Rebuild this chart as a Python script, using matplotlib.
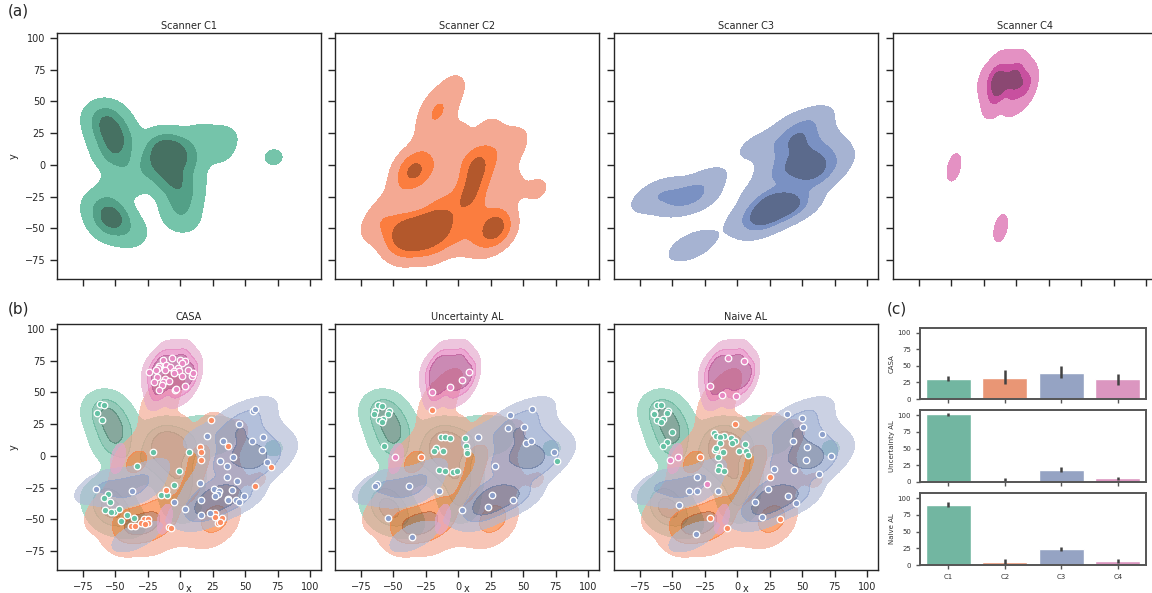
import numpy as np
import pandas as pd
import matplotlib
matplotlib.use("Agg")
import matplotlib.pyplot as plt
import seaborn as sns

sns.set_style("ticks")
plt.rcParams["font.family"] = ["DejaVu Sans"]
plt.rcParams.update({
    "axes.edgecolor": "#262626",
    "axes.linewidth": 1.0,
    "xtick.major.size": 5,
    "ytick.major.size": 5,
    "xtick.major.width": 1.0,
    "ytick.major.width": 1.0,
    "xtick.labelsize": 7,
    "ytick.labelsize": 7,
    "axes.titlesize": 7,
    "axes.labelsize": 7,
})

SCANNERS = ["C1", "C2", "C3", "C4"]
METHODS = ["CASA", "Uncertainty AL", "Naive AL"]
PALETTE = sns.color_palette("Set2", 4)

# 2-D embedding of every sample, per scanner
C1_EMBED = [
    (-62, 40), (-59, 40), (-63, 35), (-53, 35), (-54, 33), (-56, 29), (-59, 28), (-57, 27),
    (-48, 19), (-52, 11), (-55, 8), (-50, 22), (-46, 26), (-53, 18), (-45, 14), (-48, 6),
    (-56, 38), (-43, 20), (-50, 30), (-47, 3), (-51, 14), (-58, 20),
    (-40, 0), (-33, -8), (-22, 3), (-45, -12), (-38, -15), (-52, -18),
    (-18, 18), (-16, 15), (-10, 15), (-13, 15), (-5, 14), (-2, 12), (-4, 10), (-13, 10),
    (-17, 5), (-16, 6), (-11, 3), (1, 4), (6, 9), (7, 4), (8, 1), (-15, -1), (-14, -8),
    (-15, -11), (-10, -12), (-4, -13), (-1, -12), (-8, 5), (-5, 0), (2, -5),
    (-20, 10), (-8, 18), (3, 15), (-22, -3), (-6, -8),
    (-5, -23), (0, -28), (3, -35), (-2, -40), (5, -25), (-3, -17), (8, -15), (2, -20),
    (-2, -32), (4, -44),
    (-56, -30), (-59, -33), (-54, -36), (-58, -43), (-51, -44), (-47, -42), (-53, -44),
    (-46, -51), (-41, -52), (-36, -55), (-62, -38), (-55, -50), (-65, -30),
    (-52, -41), (-50, -43), (-54, -40),
    (15, 24), (25, 18), (35, 22), (30, 10), (72, 6),
]
C2_EMBED = [
    (-28, -50), (-25, -50), (-25, -53), (-30, -53), (-27, -54), (-38, -55), (-35, -55),
    (-42, -58), (-45, -55), (-20, -55), (-15, -50), (-33, -48), (-40, -50), (-22, -60),
    (-30, -60), (-48, -52), (-12, -47), (-18, -46), (-35, -60), (-44, -48),
    (15, 7), (16, 3), (16, -3), (12, -10), (10, -18), (8, -25), (14, -15), (18, 0),
    (6, -30), (11, -28), (13, -5), (7, -20), (10, 3),
    (27, -45), (27, -48), (32, -49), (29, -53), (31, -52), (26, -51), (30, -46),
    (-29, -1), (-35, -4), (-33, -3), (-38, 0), (-33, -8), (-40, -8), (-28, -10),
    (-11, -27), (-5, -35), (0, -40), (-15, -35), (5, -45), (-20, -40), (20, -35),
    (-17, 42), (-16, 41),
    (-3, 62), (-12, 50), (-22, 30), (0, 25), (-25, 15), (-12, 8), (-10, -2),
    (24, 28), (37, 8), (45, 20), (40, -20), (35, -10), (30, 15),
    (-8, -56), (-7, -57), (-60, -45), (-55, -35), (-65, -50), (-45, -20), (5, -60),
    (15, -55), (20, -62), (-20, -68), (-40, -68), (-50, -62), (61, -19),
]
C3_EMBED = [
    (-37, -28), (-32, -22), (-44, -30), (-40, -22), (-50, -27), (-28, -28),
    (-63, -22), (-67, -28), (-56, -20), (-22, -10),
    (-36, -25), (-46, -24), (-58, -25), (-26, -16),
    (-35, -64), (-30, -61), (-38, -66),
    (56, 35), (58, 37), (45, 25), (41, 32), (38, 22), (51, 23), (64, 15), (55, 12),
    (43, 12), (63, 5), (54, 7), (41, -1), (31, -4), (36, -8), (53, -3), (67, -5),
    (44, -11), (28, -10), (62, -14), (72, 0), (74, 3), (50, 0), (60, -5), (15, 15), (21, 16),
    (48, 18), (60, 20), (35, 15), (58, 28), (47, 5), (57, -8), (40, 5), (65, 8), (52, 15),
    (45, -5), (33, 2), (60, 0), (50, -10), (48, 28), (70, 10), (66, -10),
    (55, -15), (42, 18), (30, 8),
    (15, -21), (26, -26), (30, -28), (29, -30), (27, -32), (40, -27),
    (37, -34), (43, -35), (45, -36), (49, -32), (16, -35), (24, -26), (22, -40), (19, -48),
    (23, -45), (16, -47), (14, -36), (6, -42),
    (20, -30), (32, -25), (35, -38), (25, -38), (28, -42), (41, -30), (33, -33), (18, -42),
    (47, -28), (12, -44),
]
C4_EMBED = [
    (-6, 77), (-13, 76), (-16, 71), (-17, 69), (-11, 72), (0, 76), (4, 75), (1, 73),
    (-8, 70), (-2, 69), (6, 68), (-24, 66), (-19, 68), (-12, 68), (-5, 67), (-1, 67),
    (-18, 62), (-12, 61), (-5, 65), (1, 63), (9, 63), (10, 65), (-20, 58), (-13, 58),
    (-9, 59), (-14, 56), (4, 55), (-16, 52), (-4, 52), (-3, 53),
    (8, 66), (3, 60), (-20, 50), (-48, -2), (-12, -50),
]
EMBEDS = [C1_EMBED, C2_EMBED, C3_EMBED, C4_EMBED]

# samples picked by each strategy, per scanner
CASA_C1 = [(-62, 41), (-59, 40), (-64, 34), (-60, 28), (-21, 3), (7, 3), (-33, -8), (-1, -12),
           (-5, -23), (-15, -31), (-10, -31), (-56, -30), (-59, -33), (-54, -36), (-58, -43),
           (-51, -44), (-47, -42), (-53, -44), (-46, -51), (-41, -47), (-36, -49)]
CASA_C2 = [(24, 28), (37, 8), (15, 7), (16, 3), (16, -3), (70, -9), (-11, -27), (58, -24),
           (27, -45), (27, -48), (32, -49), (29, -53), (31, -52), (-28, -50), (-25, -50),
           (-25, -53), (-30, -53), (-27, -54), (-38, -55), (-35, -55), (-9, -56), (-7, -57)]
CASA_C3 = [(56, 35), (58, 37), (45, 25), (21, 16), (33, 12), (64, 15), (55, 12), (63, 5),
           (41, -1), (31, -4), (36, -8), (67, -5), (15, -21), (36, -17), (44, -20), (26, -26),
           (30, -28), (29, -30), (27, -32), (40, -27), (37, -34), (37, -35), (43, -35),
           (45, -36), (49, -32), (16, -35), (-5, -36), (4, -42), (16, -47), (23, -45),
           (-37, -28), (-65, -26)]
CASA_C4 = [(-6, 77), (-13, 76), (-16, 71), (-17, 69), (-11, 72), (0, 76), (4, 75), (1, 73),
           (-8, 70), (-2, 69), (6, 68), (-24, 66), (-19, 68), (-12, 68), (-5, 67), (-1, 67),
           (-18, 62), (-12, 61), (-5, 65), (1, 63), (9, 63), (10, 65), (-20, 58), (-13, 58),
           (-9, 59), (-14, 56), (4, 55), (-16, 52), (-4, 52), (-3, 53)]

UNC_C1 = [(-62, 40), (-59, 39), (-64, 35), (-65, 33), (-53, 35), (-54, 33), (-58, 29),
          (-61, 28), (-59, 27), (-57, 8), (-13, 15), (-10, 15), (-6, 14), (5, 14), (6, 8),
          (7, 4), (7, 2), (-17, 6), (-19, 4), (-12, 4), (-15, -11), (-10, -12), (-4, -13),
          (-1, -12), (76, -4)]
UNC_C2 = [(-20, 36), (-29, -1)]
UNC_C3 = [(57, 37), (40, 32), (38, 22), (51, 23), (15, 15), (52, 10), (56, 12), (74, 3),
          (28, -8), (-63, -22), (-64, -24), (-38, -24), (-15, -28), (26, -31), (42, -35),
          (23, -40), (3, -43), (-54, -49), (-36, -64)]
UNC_C4 = [(8, 66), (3, 60), (-6, 54), (-20, 50), (-49, -1)]

NAIVE_C1 = [(-62, 40), (-59, 40), (-64, 34), (-64, 33), (-53, 35), (-54, 34), (-57, 29),
            (-62, 28), (-59, 27), (-50, 19), (-54, 11), (-57, 8), (-18, 18), (-16, 16),
            (-10, 16), (-13, 15), (-5, 14), (-2, 12), (-4, 10), (-13, 10), (-17, 5), (-16, 6),
            (-11, 3), (1, 4), (6, 9), (7, 4), (8, 1), (-15, -1), (-14, -8), (-15, -11),
            (-10, -12)]
NAIVE_C2 = [(-2, 25), (-29, -1), (25, -17), (-21, -49), (-8, -57), (33, -50)]
NAIVE_C3 = [(38, 33), (50, 30), (51, 23), (65, 17), (43, 12), (54, 7), (72, 0), (53, -3),
            (28, -10), (44, -11), (63, -14), (-31, -17), (-37, -28), (-31, -28), (-15, -28),
            (24, -26), (39, -32), (45, -37), (14, -36), (-45, -39), (19, -48), (-32, -62)]
NAIVE_C4 = [(-7, 77), (5, 75), (-21, 55), (-12, 48), (-1, 47), (-46, -1), (-52, -3),
            (-23, -22)]

PICKS = [
    [CASA_C1, CASA_C2, CASA_C3, CASA_C4],
    [UNC_C1, UNC_C2, UNC_C3, UNC_C4],
    [NAIVE_C1, NAIVE_C2, NAIVE_C3, NAIVE_C4],
]

# share of each scanner among the selected samples (mean and interval)
CASA_MEAN = [30.7, 32.2, 39.7, 30.7]
CASA_LO = [27.6, 22.0, 32.0, 21.0]
CASA_HI = [34.7, 44.0, 50.0, 38.0]
UNC_MEAN = [101.0, 3.0, 18.0, 6.0]
UNC_LO = [98.0, 0.0, 14.6, 3.5]
UNC_HI = [103.0, 5.5, 22.0, 8.0]
NAIVE_MEAN = [89.5, 5.0, 24.6, 6.5]
NAIVE_LO = [86.0, 1.5, 21.6, 3.5]
NAIVE_HI = [94.0, 9.0, 27.6, 9.0]
BAR_MEANS = [CASA_MEAN, UNC_MEAN, NAIVE_MEAN]
BAR_LOS = [CASA_LO, UNC_LO, NAIVE_LO]
BAR_HIS = [CASA_HI, UNC_HI, NAIVE_HI]

XLIM = (-95, 108.5)
YLIM = (-90, 104)
BW_ADJUST = 0.62

embed_df = pd.DataFrame(
    [(x, y, s) for s, pts in zip(SCANNERS, EMBEDS) for x, y in pts],
    columns=["x", "y", "scanner"],
)

W, H = 1152, 593
fig = plt.figure(figsize=(W / 100, H / 100), dpi=100)


def px_axes(x0, y0, x1, y1):
    return fig.add_axes([x0 / W, 1 - y1 / H, (x1 - x0) / W, (y1 - y0) / H])


col_x = [(57, 321), (335, 599), (614, 878), (893, 1157)]
TICKS = [-75, -50, -25, 0, 25, 50, 75, 100]

# (a) one density per scanner
for i, name in enumerate(SCANNERS):
    ax = px_axes(col_x[i][0], 33, col_x[i][1], 279)
    sub = embed_df[embed_df["scanner"] == name]
    sns.kdeplot(data=sub, x="x", y="y", fill=True, levels=4, thresh=0.05,
                color=PALETTE[i], bw_adjust=BW_ADJUST, ax=ax)
    ax.set_xlim(*XLIM)
    ax.set_ylim(*YLIM)
    ax.set_xticks(TICKS)
    ax.set_yticks(TICKS)
    ax.set_xticklabels([])
    ax.set_xlabel("")
    if i == 0:
        ax.set_ylabel("y")
    else:
        ax.set_yticklabels([])
        ax.set_ylabel("")
    ax.set_title(f"Scanner {name}", pad=3)

# (b) all scanners overlaid with the selected samples
for m, method in enumerate(METHODS):
    ax = px_axes(col_x[m][0], 324, col_x[m][1], 570)
    sns.kdeplot(data=embed_df, x="x", y="y", hue="scanner", hue_order=SCANNERS,
                palette=PALETTE, fill=True, levels=4, thresh=0.05, alpha=0.65,
                bw_adjust=BW_ADJUST, legend=False, ax=ax)
    for i in range(4):
        pts = PICKS[m][i]
        ax.scatter([p[0] for p in pts], [p[1] for p in pts], s=22, color=PALETTE[i],
                   edgecolor="white", linewidth=0.9, zorder=5)
    ax.set_xlim(*XLIM)
    ax.set_ylim(*YLIM)
    ax.set_xticks(TICKS)
    ax.set_yticks(TICKS)
    ax.set_xlabel("x")
    ax.xaxis.set_label_coords(0.5, -0.057)
    if m == 0:
        ax.set_ylabel("y")
    else:
        ax.set_yticklabels([])
        ax.set_ylabel("")
    ax.set_title(method, pad=3)

# (c) scanner shares of the selected samples
bar_rows = [(328, 399), (410, 482), (493, 565)]
bar_cols = [sns.desaturate(c, 0.75) for c in PALETTE]
pos = np.arange(len(SCANNERS))
for m, method in enumerate(METHODS):
    ax = px_axes(920, bar_rows[m][0], 1146, bar_rows[m][1])
    ax.bar(pos, BAR_MEANS[m], width=0.8, color=bar_cols)
    ax.vlines(pos, BAR_LOS[m], BAR_HIS[m], color="#424242", linewidth=1.8)
    ax.set_xlim(-0.5, 3.5)
    ax.set_ylim(0, 107.5)
    ax.set_yticks([0, 25, 50, 75, 100])
    ax.set_xticks(pos)
    ax.tick_params(labelsize=5, length=3, width=1.0, color="#555555", labelcolor="#333333")
    for sp in ax.spines.values():
        sp.set_linewidth(1.4)
        sp.set_color("#555555")
    if m == 2:
        ax.set_xticklabels(SCANNERS)
    else:
        ax.set_xticklabels([])
    ax.set_ylabel(method, fontsize=5, color="#333333", labelpad=2)

fig.text(8 / W, 1 - 4 / H, "(a)", fontsize=11, va="top", ha="left")
fig.text(8 / W, 1 - 302 / H, "(b)", fontsize=11, va="top", ha="left")
fig.text(887 / W, 1 - 302 / H, "(c)", fontsize=11, va="top", ha="left")

fig.savefig("out.png", dpi=100)
